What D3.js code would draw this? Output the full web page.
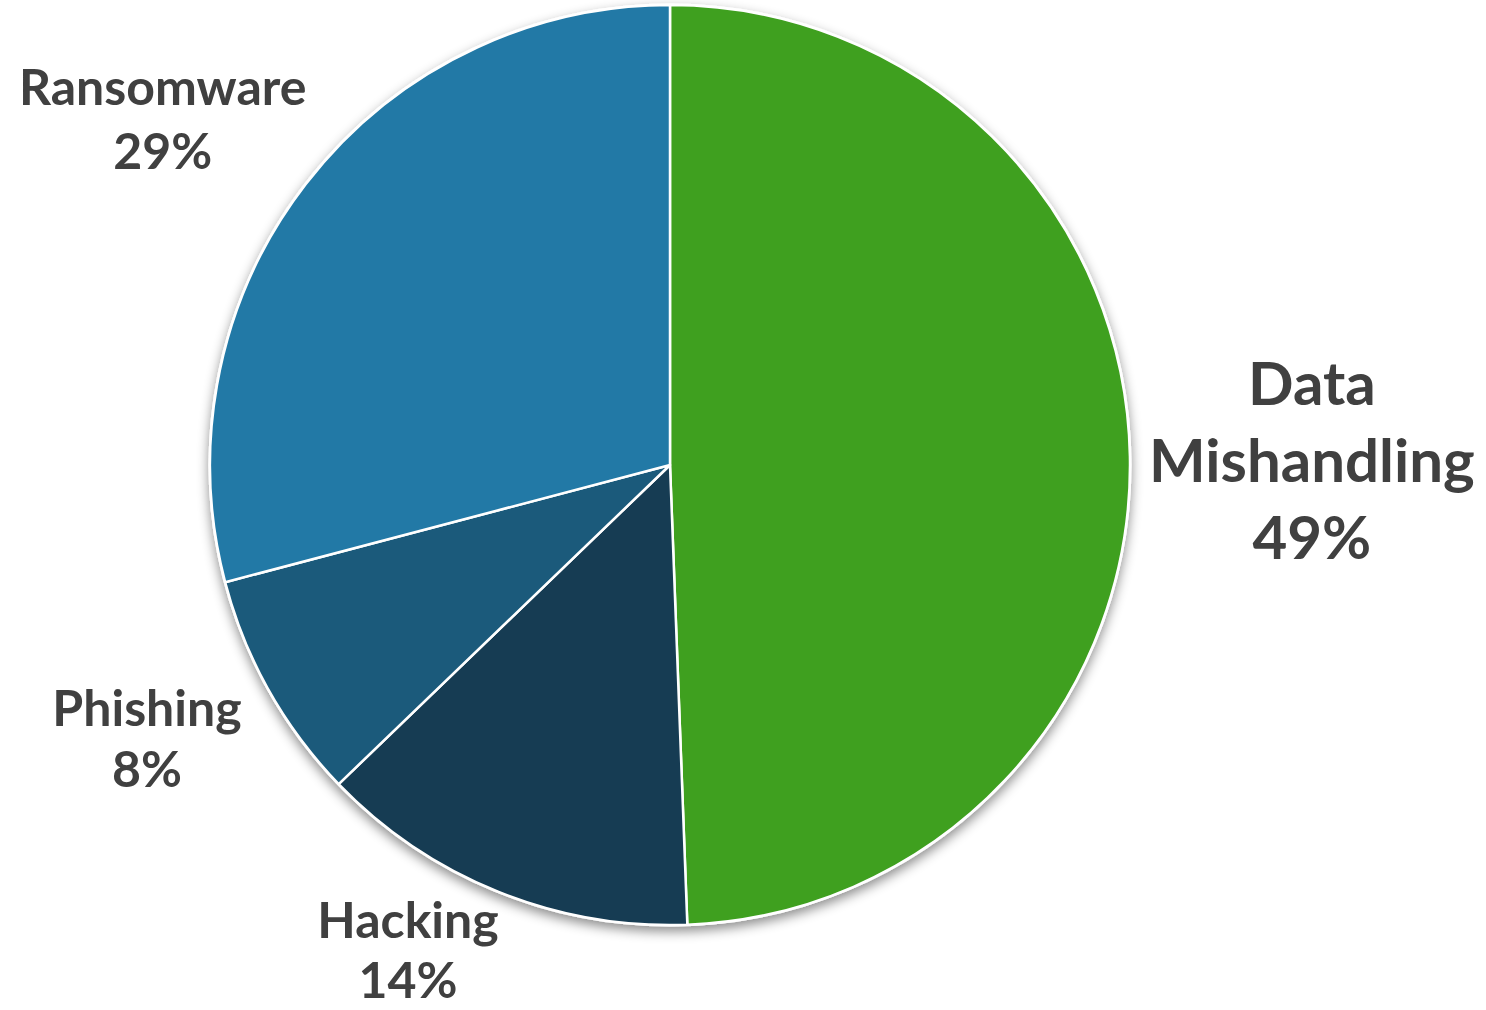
<!DOCTYPE html>
<html>
<head>
<meta charset="utf-8">
<script src="https://cdn.jsdelivr.net/npm/d3@7"></script>
<style>
  html, body { margin: 0; padding: 0; background: #ffffff; }
  svg { display: block; }
</style>
</head>
<body>
<div id="chart"></div>
<script>
// Slice data (clockwise from 12 o'clock).
var categories = ["Data Mishandling", "Hacking", "Phishing", "Ransomware"];
var values     = [49.4, 13.4, 8.1, 29.1];
var pctLabels  = ["49%", "14%", "8%", "29%"];
var labelLines = [["Data", "Mishandling"], ["Hacking"], ["Phishing"], ["Ransomware"]];

var width = 1486,
    height = 1010,
    cx = 670,
    cy = 465,
    radius = 460;

var colors = ["#3fa01f", "#163c53", "#1b5a7b", "#2279a6"],
    textColor = "#404040",
    textFont = "Lato, 'Open Sans', sans-serif";

// Label placement: offset from the slice's outer mid point, plus font size and line step.
var labelOffset = [[182, 6], [-90, 60], [-122, 50], [-143, -64]];
var labelSize   = [60, 50, 50, 50];
var labelStep   = [77, 60, 61, 64];

var svg = d3.select("#chart").append("svg")
    .attr("width", width)
    .attr("height", height);

var defs = svg.append("defs");
var shadow = defs.append("filter")
    .attr("id", "shadow")
    .attr("x", "-20%").attr("y", "-20%")
    .attr("width", "140%").attr("height", "140%");
shadow.append("feDropShadow")
    .attr("dx", 0)
    .attr("dy", 5)
    .attr("stdDeviation", 6)
    .attr("flood-color", "#000")
    .attr("flood-opacity", 0.45);

var pie = d3.pie().sort(null).value(function(d) { return d; });
var arcs = pie(values);
var arc = d3.arc().innerRadius(0).outerRadius(radius);

var g = svg.append("g").attr("transform", "translate(" + cx + "," + cy + ")");

// White disc carrying the drop shadow, slices on top.
g.append("circle")
    .attr("r", radius + 1.5)
    .attr("fill", "#ffffff")
    .attr("filter", "url(#shadow)");

g.selectAll("path.slice")
  .data(arcs)
  .enter().append("path")
    .attr("class", "slice")
    .attr("d", arc)
    .attr("fill", function(d, i) { return colors[i]; })
    .attr("stroke", "#ffffff")
    .attr("stroke-width", 2.5)
    .attr("stroke-linejoin", "round");

// Labels
arcs.forEach(function(d, i) {
    var mid = (d.startAngle + d.endAngle) / 2;
    var ax = cx + radius * Math.sin(mid) + labelOffset[i][0],
        ay = cy - radius * Math.cos(mid) + labelOffset[i][1];
    var lines = labelLines[i].concat([pctLabels[i]]);
    var step = labelStep[i],
        size = labelSize[i];
    // first baseline so that the block is vertically centred on (ax, ay)
    var firstBase = ay - (lines.length - 1) * step / 2 + size * 0.33;
    var t = svg.append("text")
        .attr("font-family", textFont)
        .attr("font-weight", "bold")
        .attr("font-size", size)
        .attr("fill", textColor)
        .attr("text-anchor", "middle");
    lines.forEach(function(line, k) {
        t.append("tspan")
            .attr("x", ax)
            .attr("y", firstBase + k * step)
            .text(line);
    });
});
</script>
</body>
</html>
